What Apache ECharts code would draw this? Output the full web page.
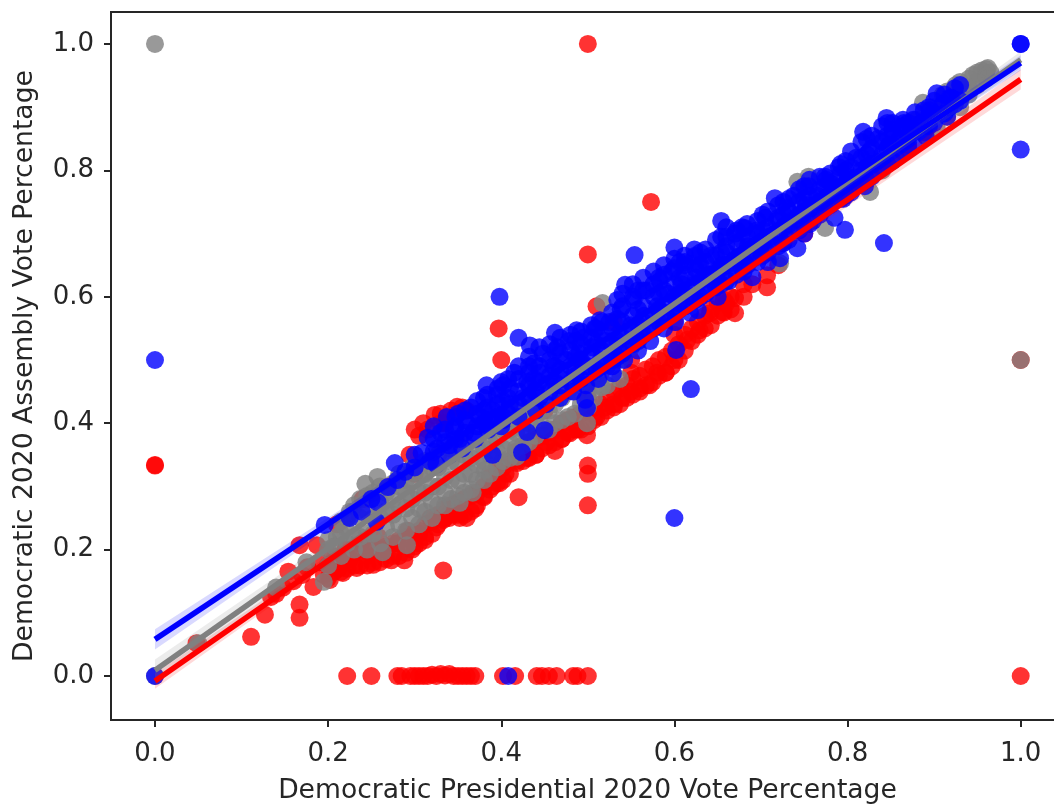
<!DOCTYPE html>
<html><head><meta charset="utf-8">
<style>html,body{margin:0;padding:0;background:#fff;overflow:hidden}#c{width:1054px;height:805px;filter:blur(.5px)}</style>
<script src="https://cdn.jsdelivr.net/npm/echarts@6/dist/echarts.min.js"></script>
</head><body><div id="c"></div>
<script>
const xTicks=[0,0.2,0.4,0.6,0.8,1.0];
const yTicks=[0,0.2,0.4,0.6,0.8,1.0];
const xTitle='Democratic Presidential 2020 Vote Percentage';
const yTitle='Democratic 2020 Assembly Vote Percentage';

const redPoints=[[0,.333],[0,.334],[.5,1],[.5,.667],[.573,.75],[.397,.55],[.4,.5],[.333,.167],[.42,.283],[.5,.333],[.5,.32],[.5,.27],[1,0],[1,.5],
[.222,0],[.25,0],[.28,0],[.285,0],[.295,0],[.3,0],[.305,0],[.31,0],[.315,0],[.32,.002],[.325,0],[.33,.003],[.335,.001],[.34,.003],[.345,0],[.35,0],[.355,0],[.36,0],[.365,0],[.37,0],[.402,0],[.416,0],[.441,0],[.447,0],[.455,0],[.464,0],[.483,0],[.488,0],[.5,0],
[.048,.052],[.111,.062],[.127,.097],[.167,.092],[.167,.113],[.134,.125],[.14,.13],[.148,.14],[.154,.165],[.16,.15],[.167,.207],[.17,.16],[.176,.172],[.183,.141],[.187,.207],[.19,.18],[.195,.16],[.202,.152],[.205,.19],[.212,.17],[.217,.163],[.22,.2],[.225,.185],[.233,.171],[.238,.21],[.245,.19],[.252,.176],[.258,.22],[.265,.2],[.273,.183],[.28,.21],[.288,.183],[.292,.23],[.3,.205],[.305,.225],[.312,.22],[.318,.25],[.325,.235],[.333,.247],[.34,.25],[.345,.27],[.352,.25],[.36,.25],[.37,.265],[.38,.283],[.39,.3],[.398,.305],[.405,.32],[.418,.337],[.43,.345],[.44,.35],[.452,.37],[.462,.356],[.47,.375],[.479,.384],[.488,.39],[.499,.381],[.51,.41],[.52,.425],[.53,.43],[.54,.44],[.55,.45],[.56,.455],[.571,.46],[.58,.48],[.59,.48],[.6,.5],[.615,.532],[.629,.547],[.641,.574],[.656,.576],[.67,.574],[.67,.598],[.66,.59],[.69,.62],[.707,.615],[.707,.634],[.72,.65],
[.294,.35],[.305,.38],[.323,.413],[.315,.39],[.335,.4],[.349,.426],[.342,.42],[.36,.42],[.3,.32],[.27,.3],[.24,.28],[.21,.24],[.51,.585],[.49,.5],[.53,.56],[.56,.54],[.45,.42],[.62,.6],[.75,.7],[.8,.77],
[.2,.155],[.2,.175],[.215,.165],[.215,.185],[.23,.175],[.23,.195],[.245,.175],[.245,.2],[.26,.18],[.26,.2],[.275,.19],[.275,.21],[.29,.195],[.29,.22],[.305,.21],[.305,.23],[.32,.225],[.32,.245],[.335,.25],[.335,.265],[.35,.255],[.35,.275],[.365,.26],[.365,.285],[.38,.285],[.38,.3],[.395,.305],[.395,.325],[.41,.32],[.41,.34],[.425,.34],[.425,.36],[.44,.35],[.44,.375],[.455,.365],[.455,.385],[.47,.375],[.47,.4],[.485,.39],[.485,.41],[.5,.395],[.5,.42],[.515,.41],[.515,.43],[.53,.425],[.53,.45],[.545,.44],[.545,.46],[.56,.45],[.56,.475],[.575,.465],[.575,.49],[.59,.48],[.59,.505],[.605,.5],[.605,.525],[.62,.53],[.62,.55],[.635,.55],[.635,.57],[.65,.57],[.65,.59],[.665,.58],[.665,.6],[.68,.6],[.68,.62],
[.3,.39],[.31,.4],[.33,.415],[.33,.4],[.355,.425],
[.207,.165],[.207,.185],[.222,.17],[.222,.19],[.237,.175],[.237,.2],[.252,.18],[.252,.205],[.267,.185],[.267,.205],[.282,.19],[.282,.215],[.297,.2],[.297,.225],[.312,.215],[.312,.24],[.327,.24],[.327,.255],[.342,.255],[.342,.27],[.357,.255],[.357,.28],[.372,.27],[.372,.29],[.387,.295],[.387,.315],[.402,.31],[.402,.33],[.417,.34],[.417,.355],[.432,.345],[.432,.37],[.447,.36],[.447,.38],[.462,.37],[.462,.39],[.477,.385],[.477,.405],[.492,.39],[.492,.415],[.507,.405],[.507,.425],[.522,.42],[.522,.44],[.537,.43],[.537,.455],[.552,.445],[.552,.47],[.567,.46],[.567,.485],[.582,.475],[.582,.5],[.597,.49],[.597,.515],[.612,.515],[.612,.54],[.627,.54],[.627,.56],[.642,.555],[.642,.58],[.657,.575],[.657,.595],
[.5,.44],[.5,.46],[.55,.48],[.55,.5],[.6,.54],[.6,.56]];

const grayPoints=[[0,1],[0,0],[1,.5],[.05,.052],[.14,.14],[.175,.18],[.195,.149],[.2,.2],[.21,.22],[.22,.235],[.225,.26],[.243,.304],[.257,.315],[.263,.196],[.291,.207],[.352,.274],[.367,.29],[.381,.326],[.418,.347],[.499,.4],[.516,.457],[.517,.59],[.53,.5],[.55,.52],[.6,.58],[.65,.62],[.7,.67],[.722,.653],[.742,.782],[.755,.79],[.774,.709],[.79,.76],[.81,.78],[.826,.766],[.84,.8],[.86,.83],[.87,.845],[.88,.88],[.887,.907],[.891,.853],[.9,.9],[.903,.867],[.915,.925],[.915,.885],[.93,.94],[.93,.9],[.94,.92],[.945,.951],[.95,.935],[.955,.958],[.962,.962],[.965,.955],[.96,.945],
[.2,.175],[.2,.215],[.215,.19],[.215,.225],[.215,.245],[.23,.2],[.23,.22],[.23,.27],[.245,.2],[.245,.225],[.245,.26],[.245,.285],[.26,.21],[.26,.25],[.26,.275],[.26,.3],[.275,.22],[.275,.255],[.275,.28],[.275,.305],[.29,.23],[.29,.265],[.29,.29],[.29,.31],[.305,.24],[.305,.265],[.305,.29],[.305,.32],[.32,.25],[.32,.275],[.32,.3],[.32,.33],[.335,.27],[.335,.29],[.335,.315],[.35,.285],[.35,.31],[.35,.335],[.365,.295],[.365,.32],[.365,.345],[.38,.31],[.38,.34],[.38,.36],[.395,.33],[.395,.355],[.395,.375],[.41,.345],[.41,.37],[.41,.39],[.425,.365],[.425,.39],[.425,.41],[.44,.38],[.44,.41],[.455,.39],[.455,.42],[.47,.405],[.47,.44],[.485,.415],[.485,.45],[.5,.425],[.5,.445],[.515,.46],[.515,.48],
[.91,.9],[.91,.92],[.925,.915],[.925,.935],[.94,.93],[.94,.945],[.95,.94],[.95,.955],[.96,.95],[.96,.96],
[.207,.205],[.222,.21],[.222,.25],[.237,.22],[.237,.25],[.237,.28],[.252,.225],[.252,.25],[.252,.29],[.267,.235],[.267,.26],[.267,.29],[.282,.24],[.282,.27],[.282,.3],[.282,.32],[.297,.25],[.297,.28],[.297,.31],[.297,.33],[.312,.26],[.312,.29],[.312,.32],[.312,.34],[.327,.27],[.327,.3],[.327,.33],[.327,.35],[.342,.28],[.342,.31],[.342,.34],[.342,.36],[.357,.29],[.357,.32],[.357,.35],[.357,.37],[.372,.31],[.372,.335],[.372,.36],[.387,.32],[.387,.35],[.387,.37],[.387,.39],[.402,.34],[.402,.36],[.402,.39],[.402,.41],[.417,.36],[.417,.385],[.417,.405],[.417,.42],[.432,.37],[.432,.4],[.432,.425],[.447,.395],[.447,.42],[.462,.4],[.462,.43],[.462,.45],[.477,.41],[.477,.45],[.492,.43],[.492,.46],[.507,.44],[.507,.47],[.522,.46],[.522,.49],[.537,.47],[.537,.5]];

const bluePoints=[[0,0],[0,.5],[1,1],[1,1],[1,.833],[.408,0],[.398,.6],[.554,.666],[.6,.678],[.6,.25],[.619,.454],[.602,.516],[.842,.685],[.797,.706],[.45,.389],[.43,.386],[.424,.354],[.39,.35],[.497,.437],[.499,.424],[.529,.479],
[.196,.239],[.239,.26],[.225,.25],[.256,.244],[.257,.275],[.269,.299],[.25,.28],[.277,.337],[.289,.323],[.28,.31],[.3,.33],[.3,.35],[.308,.353],[.315,.377],[.318,.34],[.326,.36],[.33,.385],[.337,.41],[.34,.365],[.345,.39],[.35,.415],[.352,.375],[.36,.4],[.365,.425],[.368,.385],[.375,.41],[.38,.44],[.383,.46],[.385,.395],[.39,.42],[.395,.445],[.4,.465],[.402,.405],[.41,.43],[.41,.455],[.415,.48],[.42,.535],[.42,.41],[.425,.44],[.43,.465],[.433,.523],[.432,.49],[.44,.42],[.44,.45],[.445,.48],[.448,.51],[.452,.43],[.455,.46],[.46,.49],[.462,.543],[.465,.52],[.468,.44],[.47,.47],[.475,.5],[.478,.53],[.483,.45],[.485,.48],[.487,.547],[.49,.51],[.495,.535],[.498,.46],[.5,.49],[.505,.52],[.508,.55],[.512,.47],[.514,.563],[.515,.5],[.52,.53],[.525,.56],[.528,.49],[.53,.51],[.535,.54],[.538,.58],[.543,.619],[.542,.5],[.545,.525],[.55,.555],[.553,.595],[.558,.515],[.56,.54],[.565,.57],[.568,.61],[.572,.53],[.575,.555],[.58,.585],[.583,.625],[.588,.55],[.59,.575],[.593,.605],[.597,.64],[.601,.56],[.605,.59],[.608,.62],[.612,.655],[.618,.575],[.62,.6],[.623,.675],[.625,.63],[.628,.65],[.627,.579],[.635,.61],[.64,.635],[.642,.665],[.65,.6],[.65,.625],[.654,.72],[.655,.65],[.66,.68],[.663,.625],[.668,.65],[.67,.7],[.675,.665],[.681,.709],[.68,.64],[.685,.68],[.69,.631],[.69,.66],[.695,.705],[.7,.68],[.705,.725],[.708,.655],[.71,.695],[.716,.756],[.718,.72],[.722,.661],[.725,.685],[.73,.74],[.733,.705],[.738,.76],[.742,.677],[.745,.72],[.75,.7],[.752,.745],[.755,.775],[.76,.72],[.765,.76],[.768,.735],[.775,.785],[.778,.745],[.785,.725],[.785,.77],[.79,.805],[.795,.755],[.8,.79],[.805,.77],[.81,.82],[.815,.79],[.818,.861],[.82,.775],[.825,.83],[.83,.8],[.835,.85],[.84,.815],[.845,.883],[.848,.84],[.852,.865],[.856,.82],[.86,.85],[.865,.875],[.87,.84],[.875,.865],[.878,.892],[.885,.875],[.89,.855],[.895,.895],[.9,.875],[.903,.922],[.91,.905],[.915,.885],[.92,.915],[.93,.935],[.93,.91],
[.322,.355],[.322,.375],[.322,.395],[.335,.37],[.335,.39],[.347,.375],[.347,.395],[.347,.41],[.358,.385],[.358,.405],[.358,.42],[.372,.395],[.372,.415],[.372,.435],[.384,.405],[.384,.425],[.384,.445],[.396,.41],[.396,.43],[.396,.455],[.408,.415],[.408,.44],[.408,.47],[.42,.43],[.42,.45],[.42,.47],[.42,.49],[.432,.44],[.432,.46],[.432,.48],[.432,.505],[.444,.44],[.444,.465],[.444,.49],[.444,.52],[.456,.45],[.456,.475],[.456,.5],[.456,.525],[.468,.46],[.468,.485],[.468,.51],[.468,.535],[.48,.465],[.48,.49],[.48,.515],[.48,.54],[.492,.47],[.492,.5],[.492,.525],[.492,.545],[.504,.48],[.504,.51],[.504,.535],[.504,.555],[.516,.49],[.516,.515],[.516,.54],[.516,.56],[.528,.5],[.528,.525],[.528,.55],[.528,.575],[.54,.51],[.54,.535],[.54,.56],[.54,.585],[.54,.605],[.552,.525],[.552,.545],[.552,.57],[.552,.6],[.552,.62],[.564,.54],[.564,.56],[.564,.585],[.564,.61],[.564,.63],[.576,.55],[.576,.57],[.576,.6],[.576,.62],[.576,.64],[.588,.565],[.588,.585],[.588,.61],[.588,.635],[.588,.65],[.6,.575],[.6,.6],[.6,.62],[.6,.645],[.6,.66],[.612,.585],[.612,.61],[.612,.635],[.612,.65],[.612,.665],[.624,.595],[.624,.62],[.624,.645],[.624,.665],[.636,.605],[.636,.63],[.636,.655],[.636,.675],[.648,.615],[.648,.64],[.648,.665],[.648,.69],[.66,.625],[.66,.65],[.66,.67],[.66,.695],[.66,.71],[.672,.635],[.672,.66],[.672,.685],[.672,.705],[.684,.65],[.684,.67],[.684,.695],[.684,.715],[.696,.655],[.696,.68],[.696,.7],[.696,.72],[.708,.67],[.708,.69],[.708,.71],[.708,.735],[.72,.68],[.72,.7],[.72,.725],[.72,.745],[.732,.69],[.732,.715],[.732,.735],[.732,.755],[.744,.705],[.744,.73],[.744,.75],[.744,.77],[.756,.715],[.756,.74],[.756,.76],[.756,.785],[.768,.73],[.768,.75],[.768,.77],[.768,.79],[.78,.745],[.78,.76],[.78,.78],[.78,.795],[.792,.755],[.792,.775],[.792,.795],[.792,.81],[.804,.765],[.804,.785],[.804,.805],[.804,.83],[.816,.78],[.816,.8],[.816,.82],[.816,.845],[.828,.79],[.828,.81],[.828,.835],[.828,.855],[.84,.805],[.84,.825],[.84,.845],[.84,.87],[.852,.815],[.852,.84],[.852,.86],[.852,.875],[.864,.83],[.864,.85],[.864,.87],[.864,.88],[.876,.84],[.876,.86],[.876,.88],[.888,.86],[.888,.875],[.888,.895],[.9,.89],[.9,.91],[.912,.89],[.912,.92],[.924,.905],[.924,.93],
[.325,.335],[.34,.35],[.355,.36],[.37,.375],[.385,.39],[.4,.395],[.38,.4],[.38,.42],[.402,.41],[.402,.435],[.402,.46],[.438,.45],[.438,.47],[.438,.495],[.462,.465],[.462,.49],[.462,.515],[.486,.475],[.486,.505],[.486,.53],[.51,.485],[.51,.525],[.51,.55],[.534,.505],[.534,.53],[.534,.565],[.534,.595],[.558,.53],[.558,.555],[.558,.58],[.558,.61],[.582,.56],[.582,.58],[.582,.605],[.582,.63],[.606,.58],[.606,.605],[.606,.63],[.606,.655],[.63,.6],[.63,.625],[.63,.65],[.63,.67],[.654,.62],[.654,.645],[.654,.67],[.654,.695],[.678,.645],[.678,.665],[.678,.69],[.678,.71],[.702,.665],[.702,.685],[.702,.705],[.702,.73],[.726,.685],[.726,.71],[.726,.73],[.726,.75],[.75,.715],[.75,.735],[.75,.755],[.75,.775],[.774,.74],[.774,.755],[.774,.775],[.774,.79],[.798,.76],[.798,.78],[.798,.8],[.798,.815],[.822,.785],[.822,.805],[.822,.825],[.822,.85],[.846,.81],[.846,.835],[.846,.855],[.846,.875],[.87,.835],[.87,.855],[.87,.875],[.894,.87],[.894,.885],[.894,.9],[.918,.9],[.918,.915]];

const lineX=[0,1];
const redLine=[-.008,.944];
const grayLine=[.009,.975];
const blueLine=[.058,.97];
const bandX=[0,.3,.6,1];
const redLo=[-.02,.272,.558,.928], redHi=[.004,.284,.568,.96];
const grayLo=[-.008,.292,.585,.962], grayHi=[.026,.306,.593,.988];
const blueLo=[.042,.325,.6,.958], blueHi=[.074,.339,.61,.982];

const font='"DejaVu Sans"';
const ink='#262626';
function scatter(pts,color,z){return {type:'scatter',data:pts,symbolSize:18,z:z,animation:false,silent:true,
  itemStyle:{color:color,opacity:.8,borderWidth:0}};}
function line(ys,color,z){return {type:'line',data:lineX.map((x,i)=>[x,ys[i]]),showSymbol:false,symbol:'none',z:z,animation:false,silent:true,
  lineStyle:{color:color,width:5.5,cap:'butt'}};}
function band(lo,hi,color,z){return {type:'custom',z:z,animation:false,silent:true,
  data:bandX.map((x,i)=>[x,lo[i],hi[i]]),
  renderItem:(p,api)=>{ if(p.dataIndex!==0) return;
    const up=bandX.map((x,i)=>api.coord([x,hi[i]]));
    const dn=bandX.map((x,i)=>api.coord([x,lo[i]])).reverse();
    return {type:'polygon',shape:{points:up.concat(dn)},style:{fill:color,opacity:.15}};
  }};}
const chart=echarts.init(document.getElementById('c'),null,{renderer:'canvas'});
const tl={fontFamily:font,fontSize:26,color:ink};
chart.setOption({
  animation:false,
  backgroundColor:'#fff',
  grid:{show:true,left:111,top:12,right:-10,bottom:85,outerBoundsMode:'none',containLabel:false,borderColor:ink,borderWidth:2,backgroundColor:'#fff'},
  xAxis:{type:'value',min:-.0508,max:1.05,name:xTitle,nameLocation:'middle',nameGap:58,
    nameTextStyle:{fontFamily:font,fontSize:26.6,color:ink},
    axisLine:{show:false,onZero:false},splitLine:{show:false},
    axisTick:{show:true,length:7,lineStyle:{color:ink,width:2},customValues:xTicks},
    axisLabel:{...tl,margin:21,customValues:xTicks,formatter:v=>v.toFixed(1)}},
  yAxis:{type:'value',min:-.0696,max:1.0506,name:yTitle,nameLocation:'middle',nameGap:72,
    nameTextStyle:{fontFamily:font,fontSize:26.6,color:ink},
    axisLine:{show:false,onZero:false},splitLine:{show:false},
    axisTick:{show:true,length:7,lineStyle:{color:ink,width:2},customValues:yTicks},
    axisLabel:{...tl,margin:17,customValues:yTicks,formatter:v=>v.toFixed(1)}},
  series:[
    scatter(redPoints,'#ff0000',1),scatter(grayPoints,'#808080',2),scatter(bluePoints,'#0000ff',3),
    band(redLo,redHi,'#ff0000',4),band(grayLo,grayHi,'#808080',4),band(blueLo,blueHi,'#0000ff',4),
    line(redLine,'#ff0000',5),line(grayLine,'#808080',6),line(blueLine,'#0000ff',7)
  ]
});
</script></body></html>
